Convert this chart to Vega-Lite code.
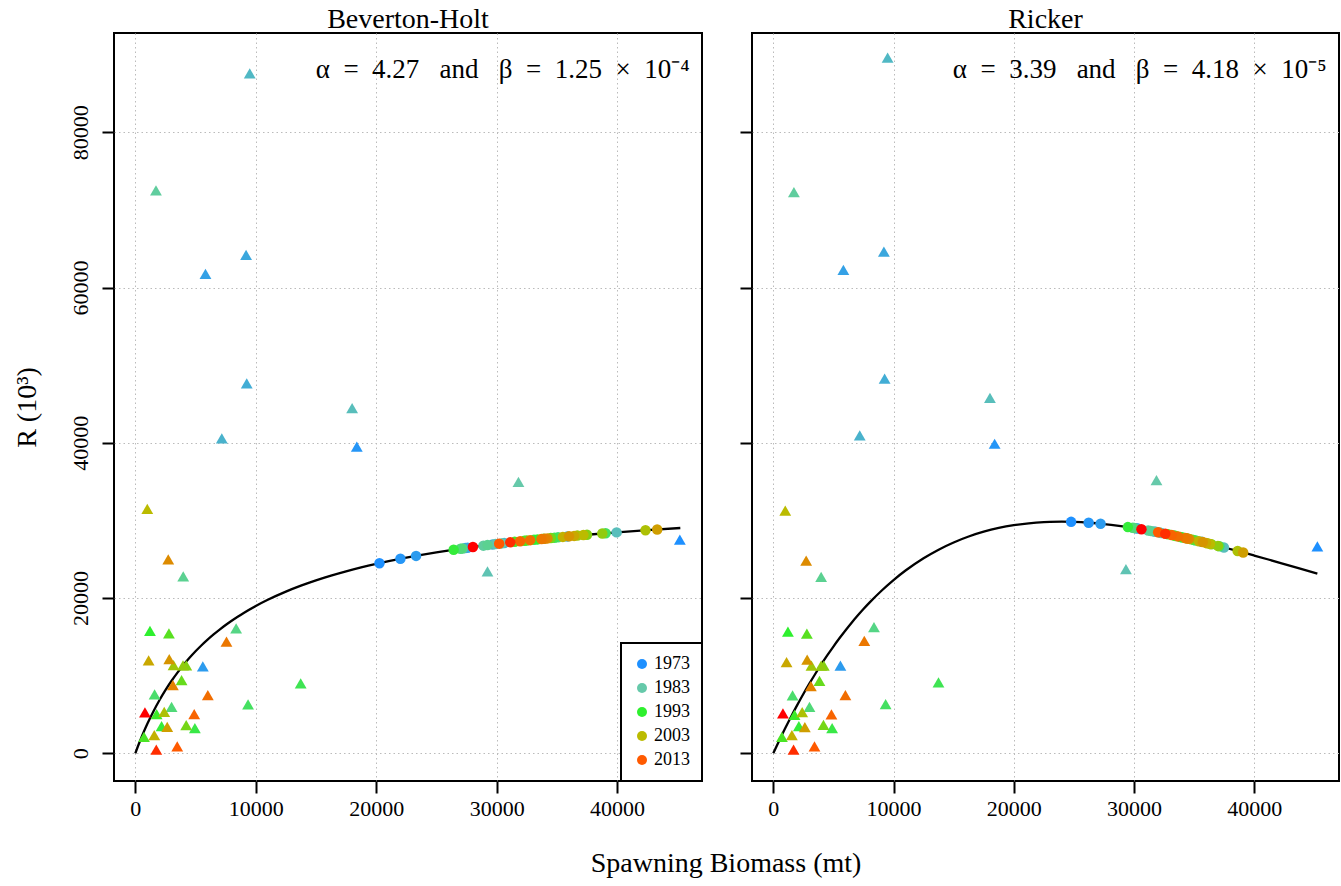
{
  "$schema": "https://vega.github.io/schema/vega-lite/v6.json",
  "background": "white",
  "padding": {"left": 11, "top": 5, "right": 3, "bottom": 4},
  "title": {"text": "Spawning Biomass (mt)", "orient": "bottom", "anchor": "middle", "fontSize": 28, "offset": 30, "dx": 50},
  "datasets": {
    "pts": [
      {"m":"BH","k":"obs","year":1973,"s":45210,"r":27520},
      {"m":"BH","k":"obs","year":1974,"s":18390,"r":39500},
      {"m":"BH","k":"obs","year":1975,"s":5605,"r":11200},
      {"m":"BH","k":"obs","year":1976,"s":5825,"r":61760},
      {"m":"BH","k":"obs","year":1977,"s":9196,"r":64210},
      {"m":"BH","k":"obs","year":1978,"s":9250,"r":47670},
      {"m":"BH","k":"obs","year":1979,"s":7180,"r":40570},
      {"m":"BH","k":"obs","year":1980,"s":9500,"r":87600},
      {"m":"BH","k":"obs","year":1981,"s":18000,"r":44480},
      {"m":"BH","k":"obs","year":1982,"s":29240,"r":23430},
      {"m":"BH","k":"obs","year":1983,"s":31810,"r":34970},
      {"m":"BH","k":"obs","year":1984,"s":1715,"r":72520},
      {"m":"BH","k":"obs","year":1985,"s":3977,"r":22780},
      {"m":"BH","k":"obs","year":1986,"s":8370,"r":16100},
      {"m":"BH","k":"obs","year":1987,"s":3010,"r":5990},
      {"m":"BH","k":"obs","year":1988,"s":1600,"r":7580},
      {"m":"BH","k":"obs","year":1989,"s":9360,"r":6290},
      {"m":"BH","k":"obs","year":1990,"s":13730,"r":9000},
      {"m":"BH","k":"obs","year":1991,"s":4945,"r":3230},
      {"m":"BH","k":"obs","year":1992,"s":2180,"r":3490},
      {"m":"BH","k":"obs","year":1993,"s":1218,"r":15760},
      {"m":"BH","k":"obs","year":1994,"s":1770,"r":5040},
      {"m":"BH","k":"obs","year":1995,"s":720,"r":2110},
      {"m":"BH","k":"obs","year":1996,"s":2790,"r":15460},
      {"m":"BH","k":"obs","year":1997,"s":3840,"r":9430},
      {"m":"BH","k":"obs","year":1998,"s":4225,"r":3620},
      {"m":"BH","k":"obs","year":1999,"s":4232,"r":11330},
      {"m":"BH","k":"obs","year":2000,"s":3959,"r":11330},
      {"m":"BH","k":"obs","year":2001,"s":3175,"r":11370},
      {"m":"BH","k":"obs","year":2002,"s":2400,"r":5340},
      {"m":"BH","k":"obs","year":2003,"s":994,"r":31490},
      {"m":"BH","k":"obs","year":2004,"s":1575,"r":2330},
      {"m":"BH","k":"obs","year":2005,"s":1105,"r":11970},
      {"m":"BH","k":"obs","year":2006,"s":2650,"r":3400},
      {"m":"BH","k":"obs","year":2007,"s":2817,"r":12140},
      {"m":"BH","k":"obs","year":2008,"s":2734,"r":24970},
      {"m":"BH","k":"obs","year":2009,"s":3120,"r":8790},
      {"m":"BH","k":"obs","year":2010,"s":7570,"r":14380},
      {"m":"BH","k":"obs","year":2011,"s":6020,"r":7490},
      {"m":"BH","k":"obs","year":2012,"s":4890,"r":5040},
      {"m":"BH","k":"obs","year":2013,"s":3480,"r":900},
      {"m":"BH","k":"obs","year":2014,"s":1740,"r":480},
      {"m":"BH","k":"obs","year":2015,"s":800,"r":5260},
      {"m":"R","k":"obs","year":1973,"s":45250,"r":26660},
      {"m":"R","k":"obs","year":1974,"s":18410,"r":39880},
      {"m":"R","k":"obs","year":1975,"s":5583,"r":11280},
      {"m":"R","k":"obs","year":1976,"s":5830,"r":62270},
      {"m":"R","k":"obs","year":1977,"s":9200,"r":64640},
      {"m":"R","k":"obs","year":1978,"s":9260,"r":48280},
      {"m":"R","k":"obs","year":1979,"s":7190,"r":40960},
      {"m":"R","k":"obs","year":1980,"s":9510,"r":89620},
      {"m":"R","k":"obs","year":1981,"s":18020,"r":45780},
      {"m":"R","k":"obs","year":1982,"s":29330,"r":23730},
      {"m":"R","k":"obs","year":1983,"s":31870,"r":35180},
      {"m":"R","k":"obs","year":1984,"s":1716,"r":72310},
      {"m":"R","k":"obs","year":1985,"s":3980,"r":22740},
      {"m":"R","k":"obs","year":1986,"s":8375,"r":16240},
      {"m":"R","k":"obs","year":1987,"s":3012,"r":5990},
      {"m":"R","k":"obs","year":1988,"s":1603,"r":7450},
      {"m":"R","k":"obs","year":1989,"s":9344,"r":6330},
      {"m":"R","k":"obs","year":1990,"s":13740,"r":9130},
      {"m":"R","k":"obs","year":1991,"s":4893,"r":3230},
      {"m":"R","k":"obs","year":1992,"s":2128,"r":3490},
      {"m":"R","k":"obs","year":1993,"s":1219,"r":15670},
      {"m":"R","k":"obs","year":1994,"s":1769,"r":4950},
      {"m":"R","k":"obs","year":1995,"s":720,"r":2110},
      {"m":"R","k":"obs","year":1996,"s":2794,"r":15410},
      {"m":"R","k":"obs","year":1997,"s":3842,"r":9340},
      {"m":"R","k":"obs","year":1998,"s":4173,"r":3660},
      {"m":"R","k":"obs","year":1999,"s":4200,"r":11280},
      {"m":"R","k":"obs","year":2000,"s":3980,"r":11280},
      {"m":"R","k":"obs","year":2001,"s":3176,"r":11280},
      {"m":"R","k":"obs","year":2002,"s":2405,"r":5300},
      {"m":"R","k":"obs","year":2003,"s":995,"r":31270},
      {"m":"R","k":"obs","year":2004,"s":1548,"r":2330},
      {"m":"R","k":"obs","year":2005,"s":1105,"r":11760},
      {"m":"R","k":"obs","year":2006,"s":2625,"r":3360},
      {"m":"R","k":"obs","year":2007,"s":2819,"r":12060},
      {"m":"R","k":"obs","year":2008,"s":2736,"r":24810},
      {"m":"R","k":"obs","year":2009,"s":3126,"r":8660},
      {"m":"R","k":"obs","year":2010,"s":7570,"r":14470},
      {"m":"R","k":"obs","year":2011,"s":5998,"r":7490},
      {"m":"R","k":"obs","year":2012,"s":4837,"r":5000},
      {"m":"R","k":"obs","year":2013,"s":3427,"r":900},
      {"m":"R","k":"obs","year":2014,"s":1686,"r":480},
      {"m":"R","k":"obs","year":2015,"s":803,"r":5130},
      {"m":"BH","k":"pred","year":1973,"s":20270,"r":24493},
      {"m":"BH","k":"pred","year":1974,"s":22010,"r":25054},
      {"m":"BH","k":"pred","year":1975,"s":23310,"r":25432},
      {"m":"BH","k":"pred","year":1976,"s":27400,"r":26440},
      {"m":"BH","k":"pred","year":1977,"s":27590,"r":26482},
      {"m":"BH","k":"pred","year":1978,"s":35870,"r":27931},
      {"m":"BH","k":"pred","year":1979,"s":29660,"r":26904},
      {"m":"BH","k":"pred","year":1980,"s":30630,"r":27086},
      {"m":"BH","k":"pred","year":1981,"s":39960,"r":28462},
      {"m":"BH","k":"pred","year":1982,"s":29900,"r":26950},
      {"m":"BH","k":"pred","year":1983,"s":30400,"r":27043},
      {"m":"BH","k":"pred","year":1984,"s":28900,"r":26754},
      {"m":"BH","k":"pred","year":1985,"s":29240,"r":26822},
      {"m":"BH","k":"pred","year":1986,"s":27170,"r":26390},
      {"m":"BH","k":"pred","year":1987,"s":27000,"r":26352},
      {"m":"BH","k":"pred","year":1988,"s":35100,"r":27819},
      {"m":"BH","k":"pred","year":1989,"s":39050,"r":28352},
      {"m":"BH","k":"pred","year":1990,"s":34800,"r":27775},
      {"m":"BH","k":"pred","year":1991,"s":33100,"r":27511},
      {"m":"BH","k":"pred","year":1992,"s":26430,"r":26223},
      {"m":"BH","k":"pred","year":1993,"s":33390,"r":27557},
      {"m":"BH","k":"pred","year":1994,"s":32300,"r":27379},
      {"m":"BH","k":"pred","year":1995,"s":31500,"r":27241},
      {"m":"BH","k":"pred","year":1996,"s":32500,"r":27412},
      {"m":"BH","k":"pred","year":1997,"s":33900,"r":27638},
      {"m":"BH","k":"pred","year":1998,"s":34500,"r":27730},
      {"m":"BH","k":"pred","year":1999,"s":37500,"r":28154},
      {"m":"BH","k":"pred","year":2000,"s":38770,"r":28317},
      {"m":"BH","k":"pred","year":2001,"s":36700,"r":28046},
      {"m":"BH","k":"pred","year":2002,"s":42360,"r":28733},
      {"m":"BH","k":"pred","year":2003,"s":37200,"r":28114},
      {"m":"BH","k":"pred","year":2004,"s":35500,"r":27878},
      {"m":"BH","k":"pred","year":2005,"s":36430,"r":28009},
      {"m":"BH","k":"pred","year":2006,"s":43330,"r":28836},
      {"m":"BH","k":"pred","year":2007,"s":36010,"r":27951},
      {"m":"BH","k":"pred","year":2008,"s":34220,"r":27687},
      {"m":"BH","k":"pred","year":2009,"s":34000,"r":27653},
      {"m":"BH","k":"pred","year":2010,"s":33720,"r":27610},
      {"m":"BH","k":"pred","year":2011,"s":32780,"r":27459},
      {"m":"BH","k":"pred","year":2012,"s":31950,"r":27320},
      {"m":"BH","k":"pred","year":2013,"s":30210,"r":27008},
      {"m":"BH","k":"pred","year":2014,"s":31130,"r":27176},
      {"m":"BH","k":"pred","year":2015,"s":28030,"r":26575},
      {"m":"R","k":"pred","year":1973,"s":24770,"r":29817},
      {"m":"R","k":"pred","year":1974,"s":26230,"r":29705},
      {"m":"R","k":"pred","year":1975,"s":27220,"r":29577},
      {"m":"R","k":"pred","year":1976,"s":30180,"r":28979},
      {"m":"R","k":"pred","year":1977,"s":30310,"r":28946},
      {"m":"R","k":"pred","year":1978,"s":35630,"r":27241},
      {"m":"R","k":"pred","year":1979,"s":31660,"r":28575},
      {"m":"R","k":"pred","year":1980,"s":32280,"r":28389},
      {"m":"R","k":"pred","year":1981,"s":37480,"r":26523},
      {"m":"R","k":"pred","year":1982,"s":31820,"r":28528},
      {"m":"R","k":"pred","year":1983,"s":32140,"r":28432},
      {"m":"R","k":"pred","year":1984,"s":31180,"r":28711},
      {"m":"R","k":"pred","year":1985,"s":31390,"r":28652},
      {"m":"R","k":"pred","year":1986,"s":30010,"r":29021},
      {"m":"R","k":"pred","year":1987,"s":29890,"r":29050},
      {"m":"R","k":"pred","year":1988,"s":35140,"r":27422},
      {"m":"R","k":"pred","year":1989,"s":37100,"r":26675},
      {"m":"R","k":"pred","year":1990,"s":34950,"r":27491},
      {"m":"R","k":"pred","year":1991,"s":33860,"r":27876},
      {"m":"R","k":"pred","year":1992,"s":29490,"r":29143},
      {"m":"R","k":"pred","year":1993,"s":34050,"r":27811},
      {"m":"R","k":"pred","year":1994,"s":33350,"r":28048},
      {"m":"R","k":"pred","year":1995,"s":32840,"r":28214},
      {"m":"R","k":"pred","year":1996,"s":33480,"r":28004},
      {"m":"R","k":"pred","year":1997,"s":34370,"r":27699},
      {"m":"R","k":"pred","year":1998,"s":34760,"r":27560},
      {"m":"R","k":"pred","year":1999,"s":36440,"r":26932},
      {"m":"R","k":"pred","year":2000,"s":36980,"r":26722},
      {"m":"R","k":"pred","year":2001,"s":36100,"r":27063},
      {"m":"R","k":"pred","year":2002,"s":38620,"r":26058},
      {"m":"R","k":"pred","year":2003,"s":36320,"r":26978},
      {"m":"R","k":"pred","year":2004,"s":35400,"r":27326},
      {"m":"R","k":"pred","year":2005,"s":35990,"r":27105},
      {"m":"R","k":"pred","year":2006,"s":39080,"r":25866},
      {"m":"R","k":"pred","year":2007,"s":35720,"r":27207},
      {"m":"R","k":"pred","year":2008,"s":34580,"r":27625},
      {"m":"R","k":"pred","year":2009,"s":34440,"r":27675},
      {"m":"R","k":"pred","year":2010,"s":34260,"r":27737},
      {"m":"R","k":"pred","year":2011,"s":33660,"r":27944},
      {"m":"R","k":"pred","year":2012,"s":33130,"r":28121},
      {"m":"R","k":"pred","year":2013,"s":32010,"r":28471},
      {"m":"R","k":"pred","year":2014,"s":32600,"r":28290},
      {"m":"R","k":"pred","year":2015,"s":30620,"r":28862}
    ],
    "curve": [
      {"m":"BH","s":0,"r":0},{"m":"BH","s":250,"r":1035},{"m":"BH","s":500,"r":2009},{"m":"BH","s":750,"r":2928},
      {"m":"BH","s":1000,"r":3796},{"m":"BH","s":1500,"r":5394},{"m":"BH","s":2000,"r":6832},{"m":"BH","s":2500,"r":8133},
      {"m":"BH","s":3000,"r":9316},{"m":"BH","s":3500,"r":10397},{"m":"BH","s":4000,"r":11387},{"m":"BH","s":4500,"r":12298},
      {"m":"BH","s":5000,"r":13138},{"m":"BH","s":5500,"r":13917},{"m":"BH","s":6000,"r":14640},{"m":"BH","s":6500,"r":15313},
      {"m":"BH","s":7000,"r":15941},{"m":"BH","s":7500,"r":16529},{"m":"BH","s":8000,"r":17080},{"m":"BH","s":8500,"r":17598},
      {"m":"BH","s":9000,"r":18085},{"m":"BH","s":10000,"r":18978},{"m":"BH","s":11000,"r":19777},{"m":"BH","s":12500,"r":20829},
      {"m":"BH","s":13750,"r":21595},{"m":"BH","s":15000,"r":22278},{"m":"BH","s":16250,"r":22891},{"m":"BH","s":17500,"r":23443},
      {"m":"BH","s":18750,"r":23944},{"m":"BH","s":20000,"r":24400},{"m":"BH","s":22500,"r":25200},{"m":"BH","s":25000,"r":25879},
      {"m":"BH","s":27500,"r":26462},{"m":"BH","s":30000,"r":26968},{"m":"BH","s":32500,"r":27412},{"m":"BH","s":35000,"r":27805},
      {"m":"BH","s":37500,"r":28154},{"m":"BH","s":40000,"r":28467},{"m":"BH","s":42500,"r":28749},{"m":"BH","s":45250,"r":29028},
      {"m":"R","s":0,"r":0},{"m":"R","s":500,"r":1660},{"m":"R","s":1000,"r":3251},{"m":"R","s":1500,"r":4776},
      {"m":"R","s":2000,"r":6236},{"m":"R","s":2500,"r":7634},{"m":"R","s":3000,"r":8971},{"m":"R","s":3500,"r":10250},
      {"m":"R","s":4000,"r":11472},{"m":"R","s":4500,"r":12639},{"m":"R","s":5000,"r":13753},{"m":"R","s":5500,"r":14816},
      {"m":"R","s":6000,"r":15828},{"m":"R","s":6500,"r":16793},{"m":"R","s":7000,"r":17710},{"m":"R","s":7500,"r":18583},
      {"m":"R","s":8000,"r":19412},{"m":"R","s":9000,"r":20944},{"m":"R","s":10000,"r":22319},{"m":"R","s":11000,"r":23546},
      {"m":"R","s":12500,"r":25130},{"m":"R","s":13750,"r":26236},{"m":"R","s":15000,"r":27164},{"m":"R","s":16250,"r":27929},
      {"m":"R","s":17500,"r":28546},{"m":"R","s":18750,"r":29030},{"m":"R","s":20000,"r":29388},{"m":"R","s":21250,"r":29635},
      {"m":"R","s":22500,"r":29781},{"m":"R","s":23000,"r":29813},{"m":"R","s":24000,"r":29835},{"m":"R","s":25000,"r":29806},
      {"m":"R","s":26250,"r":29702},{"m":"R","s":27500,"r":29534},{"m":"R","s":28750,"r":29304},{"m":"R","s":30000,"r":29021},
      {"m":"R","s":31250,"r":28691},{"m":"R","s":32500,"r":28320},{"m":"R","s":33750,"r":27913},{"m":"R","s":35000,"r":27472},
      {"m":"R","s":36250,"r":27004},{"m":"R","s":37500,"r":26513},{"m":"R","s":38750,"r":26003},{"m":"R","s":40000,"r":25475},
      {"m":"R","s":41250,"r":24937},{"m":"R","s":42500,"r":24382},{"m":"R","s":43750,"r":23822},{"m":"R","s":45250,"r":23140}
    ],
    "notes": [
      {"m":"BH","label":"α\u00a0\u00a0=\u00a0\u00a04.27\u00a0\u00a0\u00a0and\u00a0\u00a0\u00a0β\u00a0\u00a0=\u00a0\u00a01.25\u00a0\u00a0×\u00a0\u00a010⁻⁴"},
      {"m":"R","label":"α\u00a0\u00a0=\u00a0\u00a03.39\u00a0\u00a0\u00a0and\u00a0\u00a0\u00a0β\u00a0\u00a0=\u00a0\u00a04.18\u00a0\u00a0×\u00a0\u00a010⁻⁵"}
    ]
  },
  "hconcat": [
    {
      "width": 588, "height": 748,
      "title": {"text": "Beverton-Holt", "fontSize": 28, "offset": -1},
      "layer": [
        {
          "data": {"name": "curve"},
          "transform": [{"filter": "datum.m == 'BH'"}],
          "mark": {"type": "line", "color": "black", "strokeWidth": 2.3, "interpolate": "monotone"},
          "encoding": {
            "x": {"field": "s", "type": "quantitative", "scale": {"domain": [-1770, 47050], "nice": false, "zero": false},
                  "axis": {"values": [0, 10000, 20000, 30000, 40000], "title": null, "format": "d", "labelFlush": false}},
            "y": {"field": "r", "type": "quantitative", "scale": {"domain": [-3570, 92800], "nice": false, "zero": false},
                  "axis": {"values": [0, 20000, 40000, 60000, 80000], "title": "R (10³)", "format": "d", "labelAngle": -90, "labelAlign": "center", "labelBaseline": "alphabetic", "labelPadding": 15, "titlePadding": 28}}
          }
        },
        {
          "data": {"name": "pts"},
          "transform": [{"filter": "datum.m == 'BH' && datum.k == 'obs'"}],
          "mark": {"type": "point", "shape": "triangle-up", "filled": true, "opacity": 1, "size": 140, "strokeWidth": 0},
          "encoding": {
            "x": {"field": "s", "type": "quantitative"},
            "y": {"field": "r", "type": "quantitative"},
            "color": {"field": "year", "type": "quantitative",
                      "scale": {"domain": [1973, 1983, 1993, 2003, 2013, 2015], "range": ["#1E90FF", "#66C9AA", "#2EF02E", "#BBBB00", "#FF5A00", "#FF0000"], "interpolate": "rgb"},
                      "legend": {"type": "symbol", "values": [1973, 1983, 1993, 2003, 2013], "format": "d", "title": null, "orient": "bottom-right", "offset": 0, "symbolType": "circle"}}
          }
        },
        {
          "data": {"name": "pts"},
          "transform": [{"filter": "datum.m == 'BH' && datum.k == 'pred'"}],
          "mark": {"type": "point", "shape": "circle", "filled": true, "opacity": 1, "size": 110, "strokeWidth": 0},
          "encoding": {
            "x": {"field": "s", "type": "quantitative"},
            "y": {"field": "r", "type": "quantitative"},
            "color": {"field": "year", "type": "quantitative",
                      "scale": {"domain": [1973, 1983, 1993, 2003, 2013, 2015], "range": ["#1E90FF", "#66C9AA", "#2EF02E", "#BBBB00", "#FF5A00", "#FF0000"], "interpolate": "rgb"},
                      "legend": {"type": "symbol", "values": [1973, 1983, 1993, 2003, 2013], "format": "d", "title": null, "orient": "bottom-right", "offset": 0, "symbolType": "circle"}}
          }
        },
        {
          "data": {"name": "notes"},
          "transform": [{"filter": "datum.m == 'BH'"}],
          "mark": {"type": "text", "align": "right", "baseline": "middle", "font": "Liberation Serif", "fontSize": 27, "color": "black"},
          "encoding": {
            "x": {"datum": 46030, "type": "quantitative"},
            "y": {"datum": 88000, "type": "quantitative"},
            "text": {"field": "label"}
          }
        }
      ]
    },
    {
      "width": 587, "height": 748,
      "title": {"text": "Ricker", "fontSize": 28, "offset": -1},
      "layer": [
        {
          "data": {"name": "curve"},
          "transform": [{"filter": "datum.m == 'R'"}],
          "mark": {"type": "line", "color": "black", "strokeWidth": 2.3, "interpolate": "monotone"},
          "encoding": {
            "x": {"field": "s", "type": "quantitative", "scale": {"domain": [-1770, 47050], "nice": false, "zero": false},
                  "axis": {"values": [0, 10000, 20000, 30000, 40000], "title": null, "format": "d", "labelFlush": false}},
            "y": {"field": "r", "type": "quantitative", "scale": {"domain": [-3570, 92800], "nice": false, "zero": false},
                  "axis": {"values": [0, 20000, 40000, 60000, 80000], "title": null, "labels": false}}
          }
        },
        {
          "data": {"name": "pts"},
          "transform": [{"filter": "datum.m == 'R' && datum.k == 'obs'"}],
          "mark": {"type": "point", "shape": "triangle-up", "filled": true, "opacity": 1, "size": 140, "strokeWidth": 0},
          "encoding": {
            "x": {"field": "s", "type": "quantitative"},
            "y": {"field": "r", "type": "quantitative"},
            "color": {"field": "year", "type": "quantitative",
                      "scale": {"domain": [1973, 1983, 1993, 2003, 2013, 2015], "range": ["#1E90FF", "#66C9AA", "#2EF02E", "#BBBB00", "#FF5A00", "#FF0000"], "interpolate": "rgb"},
                      "legend": null}
          }
        },
        {
          "data": {"name": "pts"},
          "transform": [{"filter": "datum.m == 'R' && datum.k == 'pred'"}],
          "mark": {"type": "point", "shape": "circle", "filled": true, "opacity": 1, "size": 110, "strokeWidth": 0},
          "encoding": {
            "x": {"field": "s", "type": "quantitative"},
            "y": {"field": "r", "type": "quantitative"},
            "color": {"field": "year", "type": "quantitative",
                      "scale": {"domain": [1973, 1983, 1993, 2003, 2013, 2015], "range": ["#1E90FF", "#66C9AA", "#2EF02E", "#BBBB00", "#FF5A00", "#FF0000"], "interpolate": "rgb"},
                      "legend": null}
          }
        },
        {
          "data": {"name": "notes"},
          "transform": [{"filter": "datum.m == 'R'"}],
          "mark": {"type": "text", "align": "right", "baseline": "middle", "font": "Liberation Serif", "fontSize": 27, "color": "black"},
          "encoding": {
            "x": {"datum": 46030, "type": "quantitative"},
            "y": {"datum": 88000, "type": "quantitative"},
            "text": {"field": "label"}
          }
        }
      ]
    }
  ],
  "spacing": 34,
  "resolve": {"scale": {"color": "independent"}, "legend": {"color": "independent"}},
  "config": {
    "view": {"stroke": "black", "strokeWidth": 2},
    "axis": {"grid": true, "gridColor": "#BBBBBB", "gridDash": [1.5, 3], "gridWidth": 1, "domain": false,
             "tickColor": "black", "tickWidth": 2, "tickSize": 12, "labelFont": "Liberation Serif", "labelFontSize": 22,
             "labelColor": "black", "labelOverlap": false, "labelPadding": 5,
             "titleFont": "Liberation Serif", "titleFontSize": 28, "titleFontWeight": "normal", "titleColor": "black"},
    "title": {"font": "Liberation Serif", "fontWeight": "normal", "color": "black", "anchor": "middle"},
    "legend": {"labelFont": "Liberation Serif", "labelFontSize": 18, "labelColor": "black", "symbolSize": 100,
               "strokeColor": "black", "strokeWidth": 2, "fillColor": "white", "padding": 12, "rowPadding": 6, "labelOffset": 3}
  }
}
